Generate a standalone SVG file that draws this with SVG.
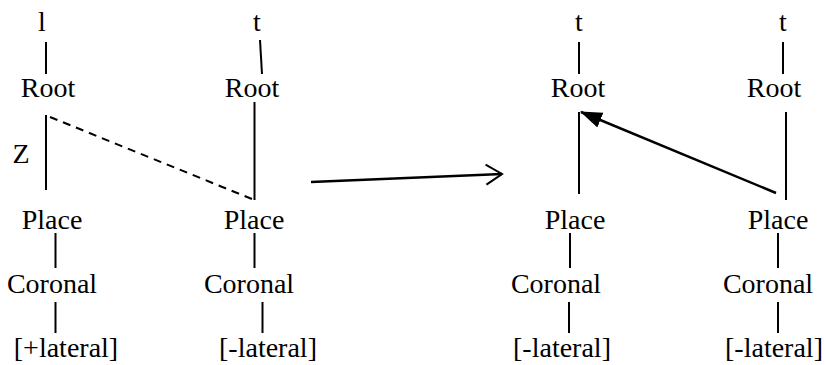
<svg xmlns="http://www.w3.org/2000/svg" width="826" height="365" viewBox="0 0 826 365">
<style>
text{font-family:'Liberation Serif',serif;font-size:28px;fill:#000;text-anchor:middle}
line,path{stroke:#000;stroke-width:2;fill:none}
.dash{stroke-dasharray:8,6}
</style>
<defs>
<marker id="open" viewBox="0 0 20 22" refX="18" refY="11" markerWidth="20" markerHeight="22" markerUnits="userSpaceOnUse" orient="auto">
<path d="M2,1 L18,11 L2,21" style="stroke-width:2"/>
</marker>
<marker id="filled" viewBox="0 0 22 20" refX="21" refY="10" markerWidth="22" markerHeight="20" markerUnits="userSpaceOnUse" orient="auto">
<path d="M0,2 L22,10 L0,18 Z" style="fill:#000;stroke:none"/>
</marker>
</defs>
<rect width="826" height="365" fill="#fff"/>
<g id="tree1">
<text x="42" y="31" font-family="Liberation Serif, serif">l</text>
<text x="48" y="97" font-family="Liberation Serif, serif">Root</text>
<text x="21" y="163" font-family="Liberation Serif, serif">Z</text>
<text x="52" y="229" font-family="Liberation Serif, serif">Place</text>
<text x="52" y="293" font-family="Liberation Serif, serif">Coronal</text>
<text x="66" y="357" font-family="Liberation Serif, serif">[+lateral]</text>
</g>
<g id="tree2">
<text x="257" y="31" font-family="Liberation Serif, serif">t</text>
<text x="252" y="97" font-family="Liberation Serif, serif">Root</text>
<text x="254" y="229" font-family="Liberation Serif, serif">Place</text>
<text x="249" y="293" font-family="Liberation Serif, serif">Coronal</text>
<text x="268" y="357" font-family="Liberation Serif, serif">[-lateral]</text>
</g>
<g id="tree3">
<text x="579" y="31" font-family="Liberation Serif, serif">t</text>
<text x="578" y="97" font-family="Liberation Serif, serif">Root</text>
<text x="575" y="229" font-family="Liberation Serif, serif">Place</text>
<text x="556" y="293" font-family="Liberation Serif, serif">Coronal</text>
<text x="562" y="357" font-family="Liberation Serif, serif">[-lateral]</text>
</g>
<g id="tree4">
<text x="783" y="31" font-family="Liberation Serif, serif">t</text>
<text x="774" y="97" font-family="Liberation Serif, serif">Root</text>
<text x="778" y="229" font-family="Liberation Serif, serif">Place</text>
<text x="768" y="293" font-family="Liberation Serif, serif">Coronal</text>
<text x="774" y="357" font-family="Liberation Serif, serif">[-lateral]</text>
</g>
<g id="connectors">
<line x1="46" y1="42" x2="46" y2="74"/>
<line x1="46" y1="115" x2="46" y2="190"/>
<line x1="50" y1="117" x2="252" y2="199" class="dash"/>
<line x1="55.5" y1="233" x2="55.5" y2="268"/>
<line x1="55.5" y1="302" x2="55.5" y2="333"/>
<line x1="260" y1="40" x2="262" y2="74"/>
<line x1="254.5" y1="102" x2="254.5" y2="200"/>
<line x1="254.5" y1="233" x2="254.5" y2="268"/>
<line x1="262.5" y1="302" x2="262.5" y2="333"/>
<line x1="311" y1="182" x2="502" y2="174" marker-end="url(#open)" style="stroke-width:2.5"/>
<line x1="579" y1="42" x2="579" y2="74"/>
<line x1="579" y1="112" x2="579" y2="194"/>
<line x1="570" y1="233" x2="570" y2="268"/>
<line x1="569" y1="302" x2="569" y2="333"/>
<line x1="783" y1="42" x2="783" y2="74"/>
<line x1="786" y1="112" x2="786" y2="200"/>
<line x1="776" y1="193" x2="581" y2="112" marker-end="url(#filled)" style="stroke-width:2.5"/>
<line x1="778" y1="233" x2="778" y2="268"/>
<line x1="778" y1="302" x2="778" y2="333"/>
</g>
</svg>
